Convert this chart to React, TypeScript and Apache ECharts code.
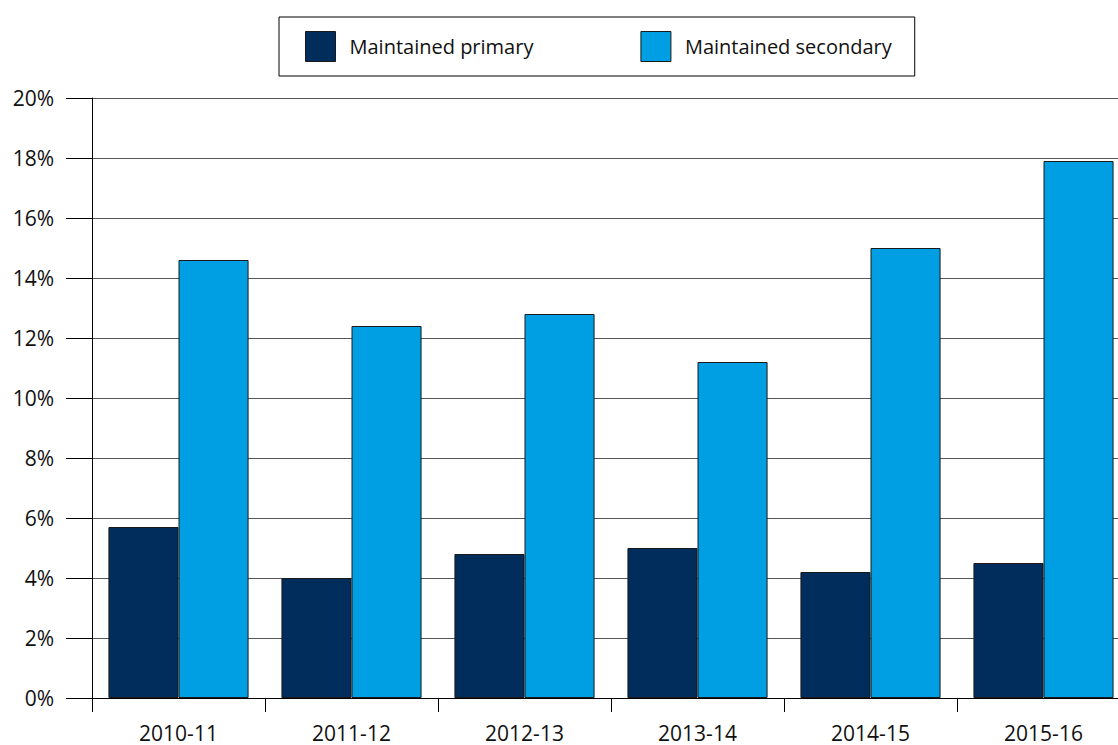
import React, { useEffect, useRef } from "react";
import * as echarts from "echarts";

const categories = ["2010-11", "2011-12", "2012-13", "2013-14", "2014-15", "2015-16"];
const primary = [5.7, 4.0, 4.8, 5.0, 4.2, 4.5];
const secondary = [14.6, 12.4, 12.8, 11.2, 15.0, 17.9];
const seriesNames = ["Maintained primary", "Maintained secondary"];

const FONT = "'Open Sans', 'Noto Sans', sans-serif";

export default function App() {
  const ref = useRef<HTMLDivElement>(null);
  useEffect(() => {
    if (!ref.current) return;
    const chart = echarts.init(ref.current, null, { renderer: "svg" });
    chart.setOption({
      animation: false,
      legend: {
        left: 279,
        top: 17,
        padding: [14, 23, 14, 26],
        borderColor: "#000",
        borderWidth: 1,
        itemWidth: 30,
        itemHeight: 30,
        itemGap: 107,
        icon: "rect",
        itemStyle: { borderColor: "#1a1a1a", borderWidth: 1 },
        textStyle: { fontFamily: FONT, fontSize: 20, color: "#111", padding: [0, 0, 0, 9] },
        data: seriesNames,
      },
      grid: { left: 92, top: 98, bottom: 47, right: 0 },
      xAxis: {
        type: "category",
        data: categories,
        axisLine: { lineStyle: { color: "#000", width: 1 } },
        axisTick: { show: true, length: 14, lineStyle: { color: "#000" } },
        axisLabel: { fontFamily: FONT, fontSize: 21, color: "#111", margin: 24 },
      },
      yAxis: {
        type: "value",
        min: 0,
        max: 20,
        interval: 2,
        axisLine: { show: true, lineStyle: { color: "#000", width: 1 } },
        axisTick: { show: true, length: 26, lineStyle: { color: "#000" } },
        axisLabel: {
          fontFamily: FONT,
          fontSize: 21,
          color: "#111",
          margin: 38,
          formatter: (v: number) => v + "%",
        },
        splitLine: { show: true, lineStyle: { color: "#555", width: 1 } },
      },
      series: [
        {
          name: seriesNames[0],
          type: "bar",
          data: primary,
          barGap: "0%",
          barCategoryGap: "19%",
          itemStyle: { color: "#002d5c", borderColor: "#1a1a1a", borderWidth: 1 },
        },
        {
          name: seriesNames[1],
          type: "bar",
          data: secondary,
          barGap: "0%",
          barCategoryGap: "19%",
          itemStyle: { color: "#009fe3", borderColor: "#1a1a1a", borderWidth: 1 },
        },
      ],
    });
    return () => chart.dispose();
  }, []);
  return (
    <div
      style={{ position: "absolute", left: 0, top: 0, width: 1118, height: 745, overflow: "hidden", background: "#fff" }}
    >
      <div ref={ref} style={{ width: 1130, height: 745 }} />
    </div>
  );
}
